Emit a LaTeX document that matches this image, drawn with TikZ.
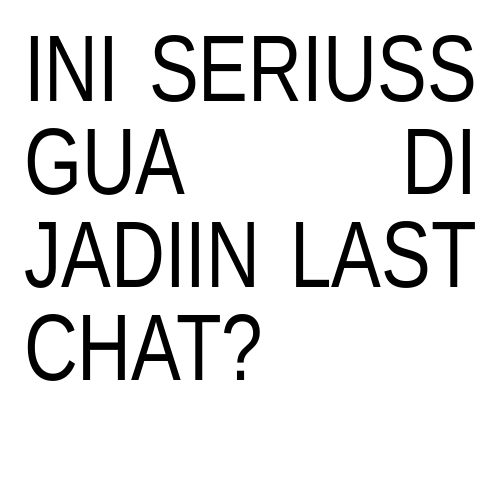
\documentclass[tikz,border=0pt]{standalone}
\usepackage{fontspec}
\newfontfamily\memefont[FakeStretch=0.79]{Liberation Sans}
\tikzset{
	memeline/.style={anchor=base west,inner sep=0pt,outer sep=0pt,
		font=\memefont\fontsize{94.5bp}{94.5bp}\selectfont}
}
\begin{document}
\begin{tikzpicture}[x=1bp,y=1bp]
		\useasboundingbox(0,0)rectangle(500,500);
		\pgfmathsetmacro{\w}{453}
		\node[memeline](lineA)at(24,398){\makebox[\w bp][s]{INI SERIUSS}};
		\node[memeline](lineB)at(24,305){\makebox[\w bp][s]{GUA\hfill DI}};
		\node[memeline](lineC)at(24,212){\makebox[\w bp][s]{JADIIN LAST}};
		\node[memeline](lineD)at(24,119){CHAT?};
	\end{tikzpicture}
\end{document}
